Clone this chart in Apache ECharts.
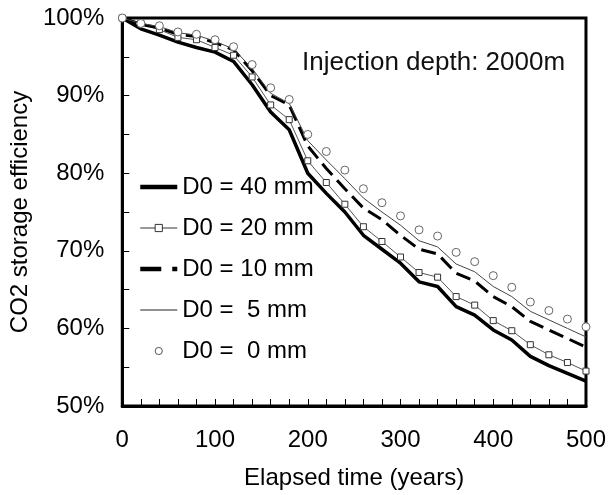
<!DOCTYPE html>
<html><head><meta charset="utf-8">
<script src="https://cdn.jsdelivr.net/npm/echarts@6/dist/echarts.min.js"></script>
<style>html,body{margin:0;padding:0;background:#fff}#c{width:609px;height:495px}</style>
</head><body><div id="c"></div>
<script>
var years = [0,20,40,60,80,100,120,140,160,180,200,220,240,260,280,300,320,340,360,380,400,420,440,460,480,500];
var d40 = [100,98.6,97.8,96.9,96.2,95.6,94.4,91.4,87.9,85.6,80.0,77.4,75.0,72.0,70.2,68.4,66.0,65.4,62.8,61.7,59.8,58.5,56.4,55.2,54.2,53.2];
var d20 = [100,99.3,98.5,97.5,97.2,96.2,95.2,92.4,88.8,86.9,81.6,78.8,76.0,73.1,71.2,69.2,67.2,66.6,64.1,63.0,61.0,59.7,57.9,56.6,55.6,54.5];
var d10 = [100,99.2,98.7,97.9,97.6,96.8,95.9,93.2,90.0,88.8,83.5,80.6,78.0,75.5,74.0,72.0,70.2,69.6,67.1,66.1,64.1,62.8,60.9,59.8,58.7,57.6];
var d5  = [100,99.3,98.9,98.1,97.8,97.0,96.0,93.5,90.3,89.0,84.2,81.7,79.3,76.8,75.0,73.3,71.3,70.5,68.3,67.3,65.4,64.1,62.2,61.1,60.0,58.9];
var d0  = [100,99.3,99.0,98.2,97.9,97.2,96.3,94.0,91.0,89.5,85.0,82.8,80.4,78.0,76.2,74.5,72.7,71.9,69.8,68.6,66.8,65.3,63.4,62.3,61.2,60.2];
var names = ['D0 = 40 mm','D0 = 20 mm','D0 = 10 mm','D0 =  5 mm','D0 =  0 mm'];
var xTicks = [0,100,200,300,400,500];
var yTicks = [50,60,70,80,90,100];

function pairs(v){ return years.map(function(t,i){return [t,v[i]];}); }
var font = 'Liberation Sans, Arial, sans-serif';
var hidden = {opacity:0};
var chart = echarts.init(document.getElementById('c'));
chart.setOption({
  animation:false,
  backgroundColor:'#fff',
  grid:{left:122,right:20,top:18,bottom:89,show:true,borderColor:'#000',borderWidth:3,backgroundColor:'transparent'},
  title:{text:'Injection depth: 2000m',left:297,top:45,textStyle:{fontFamily:font,fontSize:26,fontWeight:'normal',color:'#111'}},
  legend:{
    orient:'vertical',left:133,top:170,itemWidth:37,itemHeight:9,itemGap:17,
    textStyle:{fontFamily:font,fontSize:24,lineHeight:24,color:'#000'},
    data:[
      {name:names[0],itemStyle:hidden,lineStyle:{width:4.5,color:'#000'}},
      {name:names[1],lineStyle:{width:1,color:'#333'},itemStyle:{color:'#fff',borderColor:'#333',borderWidth:1}},
      {name:names[2],itemStyle:hidden,lineStyle:{width:4.5,color:'#000',type:[21,11]}},
      {name:names[3],itemStyle:hidden,lineStyle:{width:1,color:'#222'}},
      {name:names[4],itemStyle:{color:'#fff',borderColor:'#555',borderWidth:1}}
    ]
  },
  xAxis:{
    type:'value',min:xTicks[0],max:xTicks[xTicks.length-1],interval:100,
    name:'Elapsed time (years)',nameLocation:'middle',nameGap:60,
    nameTextStyle:{fontFamily:font,fontSize:24,color:'#000'},
    axisLine:{lineStyle:{color:'#000',width:3}},
    axisTick:{inside:true,length:7,lineStyle:{color:'#000',width:1}},
    minorTick:{show:true,splitNumber:5,length:7,lineStyle:{color:'#000',width:1}},
    splitLine:{show:false},
    axisLabel:{fontFamily:font,fontSize:24,color:'#000',margin:22}
  },
  yAxis:{
    type:'value',min:yTicks[0],max:yTicks[yTicks.length-1],interval:10,
    name:'CO2 storage efficiency',nameLocation:'middle',nameGap:90,
    nameTextStyle:{fontFamily:font,fontSize:24,color:'#000'},
    axisLine:{show:true,lineStyle:{color:'#000',width:3}},
    axisTick:{show:true,inside:true,length:7,lineStyle:{color:'#000',width:1}},
    minorTick:{show:true,splitNumber:2,length:7,lineStyle:{color:'#000',width:1}},
    splitLine:{show:false},
    axisLabel:{fontFamily:font,fontSize:24,color:'#000',margin:18,formatter:'{value}%'}
  },
  series:[
    {name:names[0],type:'line',data:pairs(d40),showSymbol:false,symbol:'none',
     lineStyle:{color:'#000',width:3.5},itemStyle:{color:'#000'}},
    {name:names[1],type:'line',data:pairs(d20),symbol:'rect',symbolSize:6,
     lineStyle:{color:'#555',width:1},itemStyle:{color:'#fff',borderColor:'#333',borderWidth:1}},
    {name:names[2],type:'line',data:pairs(d10),showSymbol:false,symbol:'none',
     lineStyle:{color:'#000',width:3,type:[15,7]},itemStyle:{color:'#000'}},
    {name:names[3],type:'line',data:pairs(d5),showSymbol:false,symbol:'none',
     lineStyle:{color:'#444',width:1},itemStyle:{color:'#444'}},
    {name:names[4],type:'line',data:pairs(d0),symbol:'circle',symbolSize:8,
     lineStyle:{opacity:0,width:0},itemStyle:{color:'#fff',borderColor:'#666',borderWidth:1}}
  ]
});
</script></body></html>
